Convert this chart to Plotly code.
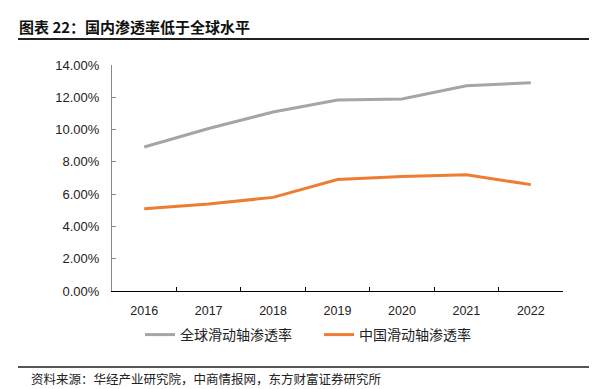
import plotly.graph_objects as go

years = ["2016", "2017", "2018", "2019", "2020", "2021", "2022"]
global_rate = [8.92, 10.07, 11.09, 11.83, 11.90, 12.72, 12.90]
china_rate = [5.10, 5.39, 5.80, 6.90, 7.10, 7.20, 6.59]
y_ticks = [0, 2, 4, 6, 8, 10, 12, 14]
y_tick_labels = ["%.2f%%" % v for v in y_ticks]

title_text = "图表 22：国内渗透率低于全球水平"
source_text = "资料来源：华经产业研究院，中商情报网，东方财富证券研究所"
name_global = "全球滑动轴渗透率"
name_china = "中国滑动轴渗透率"

W, H = 597, 389
L, R, T, B = 104, 555, 57, 283  # plot area pixels


def px_x(px):
    return (px - L) / (R - L)


def px_y(py):
    return (B - py) / (B - T)


cjk = "Noto Sans CJK SC"
latin = "Liberation Sans, Arial, sans-serif"

fig = go.Figure()
fig.add_trace(go.Scatter(x=years, y=global_rate, mode="lines", name=name_global,
                         line=dict(color="#A5A5A5", width=3)))
fig.add_trace(go.Scatter(x=years, y=china_rate, mode="lines", name=name_china,
                         line=dict(color="#ED7D31", width=3)))

fig.update_layout(
    width=W, height=H,
    margin=dict(l=L, r=W - R, t=T, b=H - B, pad=0),
    plot_bgcolor="white", paper_bgcolor="white",
    showlegend=True,
    legend=dict(orientation="h", x=px_x(132), xanchor="left", y=px_y(327), yanchor="middle",
                font=dict(family=cjk, size=14, color="#222"),
                itemwidth=30, entrywidth=134, entrywidthmode="pixels",
                tracegroupgap=0, bgcolor="rgba(0,0,0,0)"),
    xaxis=dict(type="category", range=[-0.5, 6.5], showgrid=False, showline=True,
               linecolor="#000", linewidth=1,
               ticks="inside", tickson="boundaries", ticklen=4, tickcolor="#000",
               ticklabelstandoff=8,
               tickfont=dict(family=latin, size=12.5, color="#222"), fixedrange=True),
    yaxis=dict(range=[0, 14], tickvals=y_ticks, ticktext=y_tick_labels, showgrid=False,
               showline=True, linecolor="#888", linewidth=1, ticks="inside", ticklen=4,
               tickcolor="#888", zeroline=False, ticklabelstandoff=9,
               tickfont=dict(family=latin, size=13, color="#222"), fixedrange=True),
    shapes=[
        dict(type="line", xref="paper", yref="paper", x0=px_x(10), x1=px_x(590),
             y0=px_y(31), y1=px_y(31), line=dict(color="#222", width=2)),
        dict(type="line", xref="paper", yref="paper", x0=px_x(10), x1=px_x(590),
             y0=px_y(359), y1=px_y(359), line=dict(color="#555", width=2)),
    ],
    annotations=[
        dict(text="<b>" + title_text + "</b>", xref="paper", yref="paper", x=px_x(9), y=px_y(18),
             xanchor="left", yanchor="middle", showarrow=False,
             font=dict(family=cjk, size=15, color="#111")),
        dict(text=source_text, xref="paper", yref="paper", x=px_x(21), y=px_y(370),
             xanchor="left", yanchor="middle", showarrow=False,
             font=dict(family=cjk, size=12.5, color="#222")),
    ],
)

fig.write_html("out.html")
